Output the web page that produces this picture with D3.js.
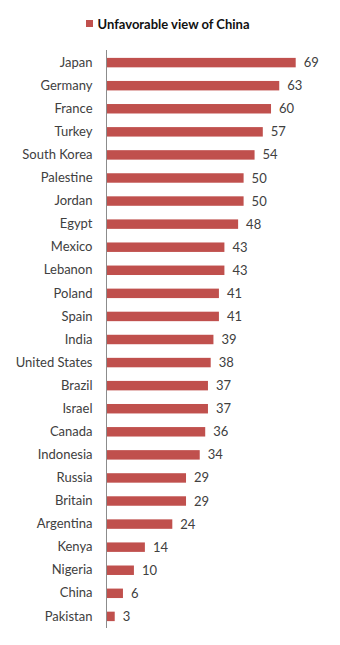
<!DOCTYPE html>
<html><head><meta charset="utf-8">
<script src="https://cdn.jsdelivr.net/npm/d3@7"></script>
<style>body{margin:0;background:#fff}svg{display:block}</style>
</head><body>
<script>
const countries = ["Japan","Germany","France","Turkey","South Korea","Palestine","Jordan","Egypt","Mexico","Lebanon","Poland","Spain","India","United States","Brazil","Israel","Canada","Indonesia","Russia","Britain","Argentina","Kenya","Nigeria","China","Pakistan"];
const unfavorable = [69,63,60,57,54,50,50,48,43,43,41,41,39,38,37,37,36,34,29,29,24,14,10,6,3];
const seriesName = "Unfavorable view of China";

const W = 340, H = 645;
const svg = d3.select("body").append("svg").attr("width", W).attr("height", H);
const font = "Lato, 'Open Sans', sans-serif";
const x0 = 106.5;
const x = d3.scaleLinear().domain([0, 69]).range([x0, 295.7]);
const y = d3.scaleBand().domain(countries).range([50, 628]).paddingInner(0.59).paddingOuter(0.32);

svg.append("g").selectAll("rect").data(countries).join("rect")
  .attr("x", x(0)).attr("y", d => y(d) + 0.5)
  .attr("width", (d,i) => x(unfavorable[i]) - x(0))
  .attr("height", y.bandwidth())
  .attr("fill", "#C0504D");

const axis = d3.axisLeft(y).tickSize(0).tickPadding(14);
const g = svg.append("g").attr("transform", `translate(${x0},0.5)`).call(axis);
g.select(".domain").attr("stroke", "#8c8c8c").attr("d", "M0,49.5V627.5");
g.selectAll("text").attr("font-family", font).attr("font-size", 13).attr("fill", "#404040");

svg.append("g").selectAll("text").data(countries).join("text")
  .attr("x", (d,i) => x(unfavorable[i]) + 8)
  .attr("y", d => y(d) + 0.5 + y.bandwidth()/2)
  .attr("dy", "0.35em")
  .attr("font-family", font).attr("font-size", 13).attr("fill", "#404040")
  .text((d,i) => unfavorable[i]);

const lg = svg.append("g");
lg.append("rect").attr("x", 86).attr("y", 20).attr("width", 7).attr("height", 7).attr("fill", "#C0504D");
lg.append("text").attr("x", 97.5).attr("y", 28.5).attr("font-family", font).attr("font-size", 13)
  .attr("font-weight", "bold").attr("fill", "#111").text(seriesName);
</script>
</body></html>
